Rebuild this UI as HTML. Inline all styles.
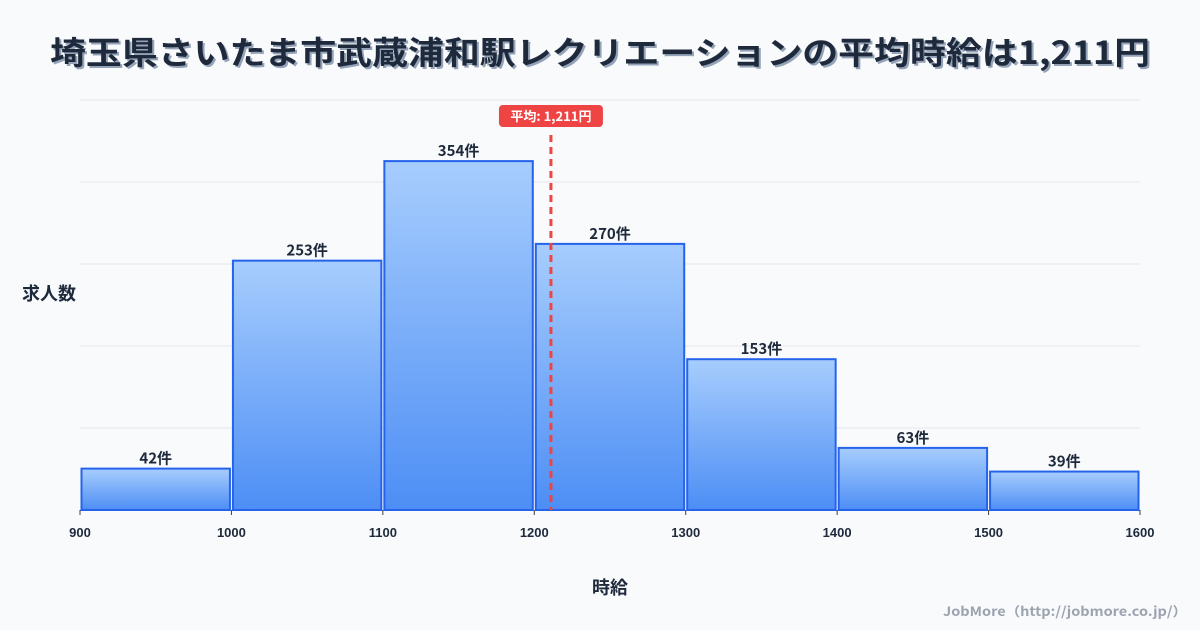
<!DOCTYPE html>
<html><head><meta charset="utf-8"><style>
html,body{margin:0;padding:0;background:#f8fafc;}
svg{display:block;font-family:"Liberation Sans","Noto Sans CJK JP",sans-serif;}
</style></head><body>
<svg id="chart" width="1200" height="630" viewBox="0 0 1200 630">
<defs>
<linearGradient id="barGrad" x1="0" y1="0" x2="0" y2="1">
<stop offset="0" stop-color="#a7cdfd"/><stop offset="1" stop-color="#4d8ef5"/>
</linearGradient>
</defs>
<rect width="1200" height="630" fill="#f8fafc"/>
<text x="602" y="66" text-anchor="middle" font-size="32" font-weight="700" fill="#94a3b8" textLength="1100" lengthAdjust="spacingAndGlyphs" font-family="'Noto Sans CJK JP',sans-serif">埼玉県さいたま市武蔵浦和駅レクリエーションの平均時給は1,211円</text>
<text x="600" y="64" text-anchor="middle" font-size="32" font-weight="700" fill="#1e293b" textLength="1100" lengthAdjust="spacingAndGlyphs" font-family="'Noto Sans CJK JP',sans-serif">埼玉県さいたま市武蔵浦和駅レクリエーションの平均時給は1,211円</text>
<g id="grid"></g>
<g id="bars"></g>
<g id="xticks"></g>
<g id="mean"></g>
<text x="49" y="300" text-anchor="middle" font-size="18" font-weight="700" fill="#1e293b" font-family="'Noto Sans CJK JP',sans-serif">求人数</text>
<text x="610" y="594" text-anchor="middle" font-size="18" font-weight="700" fill="#1e293b" font-family="'Noto Sans CJK JP',sans-serif">時給</text>
<text x="1187" y="616" text-anchor="end" font-size="13" font-weight="700" fill="#9ca3af" textLength="244" lengthAdjust="spacingAndGlyphs" font-family="'Noto Sans CJK JP',sans-serif">JobMore（http://jobmore.co.jp/）</text>
</svg>
<script>
const binStarts = [900,1000,1100,1200,1300,1400,1500];
const binWidth = 100;
const counts = [42,253,354,270,153,63,39];
const xTickLabels = ["900","1000","1100","1200","1300","1400","1500","1600"];
const meanValue = 1211;
const meanLabel = "平均: 1,211円";
const yMax = 416;
const gridCount = 5;

const NS="http://www.w3.org/2000/svg";
const X0=80,X1=1140,Y0=510,Y1=100;
const xs=v=>X0+(v-900)/700*(X1-X0);
const ys=v=>Y0-v/yMax*(Y0-Y1);
function mk(tag,attrs,parent){const e=document.createElementNS(NS,tag);for(const k in attrs)e.setAttribute(k,attrs[k]);parent.appendChild(e);return e;}
const grid=document.getElementById('grid');
for(let i=0;i<=gridCount;i++){
  const y=ys(yMax*i/gridCount);
  const l=mk('line',{x1:X0,x2:X1,y1:y,y2:y,stroke:'#e5e7eb','stroke-width':1},grid);
  
  
}
const bars=document.getElementById('bars');
counts.forEach((c,i)=>{
  const xa=xs(binStarts[i])+1.5, xb=xs(binStarts[i]+binWidth)-1.5, yt=ys(c);
  const r=mk('rect',{x:xa,y:yt,width:xb-xa,height:Y0-yt,fill:'url(#barGrad)',stroke:'#2563eb','stroke-width':2},bars);
  
  
  const t=mk('text',{x:(xa+xb)/2,y:yt-5,'text-anchor':'middle','font-size':15,'font-weight':700,fill:'#1e293b','font-family':"'Noto Sans CJK JP',sans-serif"},bars);
  t.textContent=c+'件';
  
  
});
const xt=document.getElementById('xticks');
xTickLabels.forEach(s=>{
  const x=xs(+s);
  const tk=mk('line',{x1:x,x2:x,y1:Y0,y2:Y0+5,stroke:'#374151','stroke-width':1},xt);
  
  
  const t=mk('text',{x:x,y:537,'text-anchor':'middle','font-size':13,'font-weight':700,fill:'#1e293b'},xt);
  t.textContent=s;
  
  
});
const mg=document.getElementById('mean');
const mx=xs(meanValue);
const ml=mk('line',{x1:mx,x2:mx,y1:135,y2:Y0,stroke:'#ef4444','stroke-width':3,'stroke-dasharray':'7,5'},mg);


const mb=mk('rect',{x:mx-52,y:105,width:104,height:22,rx:4,fill:'#ef4444'},mg);


const mt=mk('text',{x:mx,y:121,'text-anchor':'middle','font-size':13,'font-weight':700,fill:'#ffffff','font-family':"'Noto Sans CJK JP',sans-serif"},mg);
mt.textContent=meanLabel;


</script>
</body></html>
